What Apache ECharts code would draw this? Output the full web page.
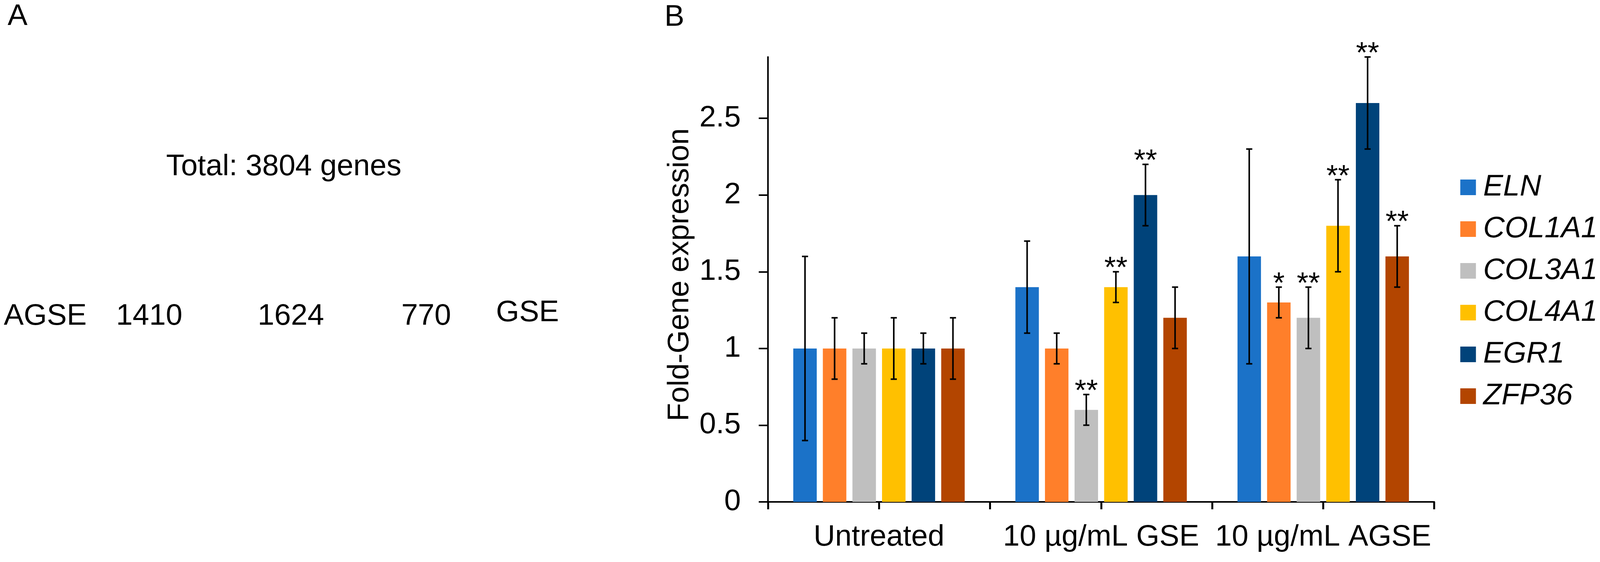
<!DOCTYPE html>
<html>
<head>
<meta charset="utf-8">
<script src="https://cdn.jsdelivr.net/npm/echarts@6/dist/echarts.min.js"></script>
<style>
html,body{margin:0;padding:0;background:#fff;overflow:hidden;}
#chart{width:100vw;height:100vh;}
</style>
</head>
<body>
<div id="chart"></div>
<script>
// ---------- Data ----------
const categories = ['Untreated', '10 µg/mL GSE', '10 µg/mL AGSE'];
const genes = ['ELN', 'COL1A1', 'COL3A1', 'COL4A1', 'EGR1', 'ZFP36'];
const geneColors = ['#1B72C8', '#FF7F2A', '#BFBFBF', '#FFC000', '#00437A', '#B34500'];

const ELN    = [1.0, 1.4, 1.6];
const COL1A1 = [1.0, 1.0, 1.3];
const COL3A1 = [1.0, 0.6, 1.2];
const COL4A1 = [1.0, 1.4, 1.8];
const EGR1   = [1.0, 2.0, 2.6];
const ZFP36  = [1.0, 1.2, 1.6];

const ELN_err    = [0.6, 0.3, 0.7];
const COL1A1_err = [0.2, 0.1, 0.1];
const COL3A1_err = [0.1, 0.1, 0.2];
const COL4A1_err = [0.2, 0.1, 0.3];
const EGR1_err   = [0.1, 0.2, 0.3];
const ZFP36_err  = [0.2, 0.2, 0.2];

const ELN_sig    = ['', '', ''];
const COL1A1_sig = ['', '', '*'];
const COL3A1_sig = ['', '**', '**'];
const COL4A1_sig = ['', '**', '**'];
const EGR1_sig   = ['', '**', '**'];
const ZFP36_sig  = ['', '', '**'];

const yTicks = [0, 0.5, 1, 1.5, 2, 2.5];
const yMax = 2.9;

// Panel A texts
const panelATotal = 'Total: 3804 genes';
const panelALeftName = 'AGSE';
const panelARightName = 'GSE';
const panelACounts = ['1410', '1624', '770'];

// ---------- Build ----------
const values = [ELN, COL1A1, COL3A1, COL4A1, EGR1, ZFP36];
const errors = [ELN_err, COL1A1_err, COL3A1_err, COL4A1_err, EGR1_err, ZFP36_err];
const sigs = [ELN_sig, COL1A1_sig, COL3A1_sig, COL4A1_sig, EGR1_sig, ZFP36_sig];

const chartEl = document.getElementById('chart');
const chart = echarts.init(chartEl, null, { renderer: 'canvas' });
const W = chart.getWidth();
const sx = W / 4190;          // horizontal layout factor (design width 4190)
const X = v => v * sx;
const FS = Math.round(78 * sx * 10) / 10;

const FONT = 'Liberation Sans, Arial, sans-serif';
const BAR_W = X(61.5);
const BAR_GAP = 0.26;
const PITCH = BAR_W * (1 + BAR_GAP);

const series = [];
genes.forEach((g, i) => {
  series.push({
    name: g,
    type: 'bar',
    data: values[i],
    barWidth: BAR_W,
    barGap: (BAR_GAP * 100) + '%',
    itemStyle: { color: geneColors[i] },
    z: 2
  });
});
genes.forEach((g, i) => {
  const offset = (i - (genes.length - 1) / 2) * PITCH;
  series.push({
    name: g + ' error',
    type: 'custom',
    z: 5,
    data: categories.map((c, k) => [k, values[i][k] - errors[i][k], values[i][k] + errors[i][k]]),
    encode: { x: 0, y: [1, 2] },
    renderItem: function (params, api) {
      const k = api.value(0);
      const lo = api.coord([k, api.value(1)]);
      const hi = api.coord([k, api.value(2)]);
      const x = lo[0] + offset;
      const cap = X(8);
      const sig = sigs[i][k];
      const children = [
        { type: 'line', shape: { x1: x, y1: lo[1], x2: x, y2: hi[1] }, style: { stroke: '#000', lineWidth: 4 } },
        { type: 'line', shape: { x1: x - cap, y1: hi[1], x2: x + cap, y2: hi[1] }, style: { stroke: '#000', lineWidth: 4 } },
        { type: 'line', shape: { x1: x - cap, y1: lo[1], x2: x + cap, y2: lo[1] }, style: { stroke: '#000', lineWidth: 4 } }
      ];
      if (sig) {
        children.push({
          type: 'text',
          style: {
            text: sig, x: x, y: hi[1] - 7,
            align: 'center', verticalAlign: 'middle',
            font: FS + 'px ' + FONT, fill: '#000'
          }
        });
      }
      return { type: 'group', children: children };
    }
  });
});

function label(text, x, y) {
  return { type: 'text', x: X(x), y: y, style: { text: text, font: FS + 'px ' + FONT, fill: '#000', align: 'left', verticalAlign: 'middle' } };
}

chart.setOption({
  backgroundColor: '#fff',
  animation: false,
  textStyle: { fontFamily: FONT },
  grid: { left: X(2011), right: X(434), top: 146, bottom: 154, containLabel: false },
  legend: {
    data: genes,
    orient: 'vertical',
    left: X(3819),
    top: 437,
    itemWidth: X(41),
    itemHeight: 40,
    itemGap: 31,
    icon: 'rect',
    textStyle: { fontSize: FS, fontStyle: 'italic', color: '#000', fontFamily: FONT, padding: [0, 0, 0, X(14)] }
  },
  xAxis: [
    {
      type: 'category',
      data: categories,
      axisLine: { lineStyle: { color: '#000', width: 4 } },
      axisTick: { show: false },
      axisLabel: { fontSize: FS, color: '#000', margin: 53, fontFamily: FONT, interval: 0 }
    },
    {
      type: 'category',
      data: categories.flatMap(c => ['', '']),
      position: 'bottom',
      axisLine: { show: false },
      axisLabel: { show: false },
      axisTick: { show: true, length: 19, lineStyle: { color: '#000', width: 5 } }
    }
  ],
  yAxis: {
    type: 'value',
    min: 0,
    max: yMax,
    interval: 0.5,
    name: 'Fold-Gene expression',
    nameLocation: 'middle',
    nameGap: X(191),
    nameTextStyle: { fontSize: FS, color: '#000', fontFamily: FONT, padding: [0, 0, 0, 24] },
    axisLine: { show: true, lineStyle: { color: '#000', width: 4 } },
    axisTick: { show: true, length: X(24), customValues: yTicks, lineStyle: { color: '#000', width: 4 } },
    axisLabel: { fontSize: FS, color: '#000', margin: X(71), fontFamily: FONT, customValues: yTicks },
    splitLine: { show: false }
  },
  graphic: [
    label('A', 20, 43),
    label(panelATotal, 435, 428),
    label(panelALeftName, 10, 811),
    label(panelACounts[0], 304, 811),
    label(panelACounts[1], 675, 811),
    label(panelACounts[2], 1051, 811),
    label(panelARightName, 1299, 802),
    label('B', 1740, 45)
  ],
  series: series
});
</script>
</body>
</html>
